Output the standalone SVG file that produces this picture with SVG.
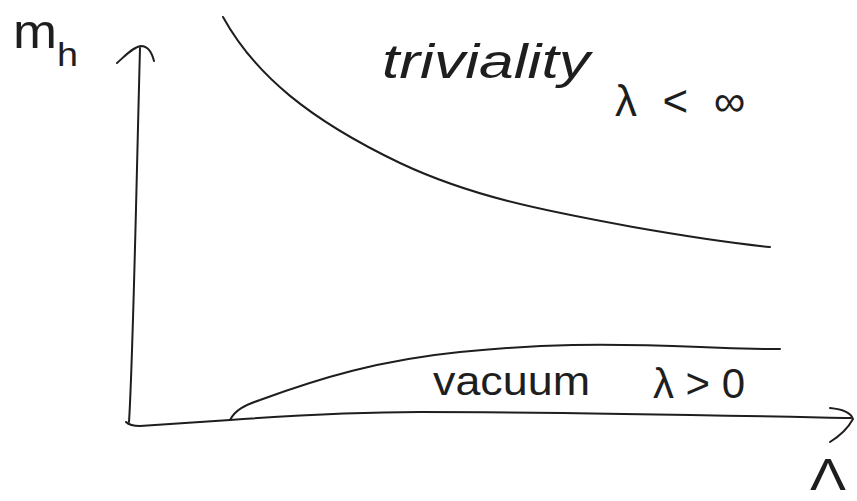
<svg xmlns="http://www.w3.org/2000/svg" width="857" height="501" viewBox="0 0 857 501">
  <style>
    .ln { fill: none; stroke: #1e1e1e; stroke-width: 2; stroke-linecap: round; stroke-linejoin: round; }
    .lb { font-family: "Liberation Sans", "DejaVu Sans", sans-serif; fill: #1e1e1e; }
  </style>
  <rect width="857" height="501" fill="#ffffff"/>
  <g id="connectors">
    <g id="y-axis">
      <path class="ln" d="M129,422 C133,360 136,200 140,48"/>
      <path class="ln" d="M117,63 C125,56 133,47 141,46 C148,46 152,53 154,61"/>
    </g>
    <g id="x-axis">
      <path class="ln" d="M126,422 Q130,426 140,426 L230,420 C300,415 360,412 420,412 C560,412 700,415 851,418"/>
      <path class="ln" d="M830,408 Q850,410 853,419 Q846,432 830,442"/>
    </g>
  </g>
  <g id="triviality-curve">
    <path class="ln" d="M223,17 C255,75 310,120 400,163 C470,196 540,210 633,227 C690,237 740,244 770,247"/>
  </g>
  <g id="vacuum-curve">
    <path class="ln" d="M230,420 C235,410 245,405 260,400 C320,378 380,360 460,352 C540,344 600,343 700,347 C740,349 760,349 780,349"/>
  </g>
  <g id="label-mh">
    <text class="lb" x="13" y="48" font-size="48" textLength="44" lengthAdjust="spacingAndGlyphs">m</text>
    <text class="lb" x="57" y="66" font-size="34" textLength="21" lengthAdjust="spacingAndGlyphs">h</text>
  </g>
  <g id="label-triviality">
    <text class="lb" x="382" y="78" font-size="48" font-style="italic" textLength="208" lengthAdjust="spacingAndGlyphs">triviality</text>
    <text class="lb" x="615" y="116" font-size="44" textLength="130" lengthAdjust="spacing">λ&lt;∞</text>
  </g>
  <g id="label-vacuum">
    <text class="lb" x="433" y="395" font-size="40" textLength="157" lengthAdjust="spacingAndGlyphs">vacuum</text>
    <text class="lb" x="653" y="398" font-size="42" textLength="92" lengthAdjust="spacing">λ&gt;0</text>
  </g>
  <g id="label-Lambda">
    <text class="lb" x="810" y="490" font-size="44" textLength="36" lengthAdjust="spacingAndGlyphs">Λ</text>
  </g>
</svg>
